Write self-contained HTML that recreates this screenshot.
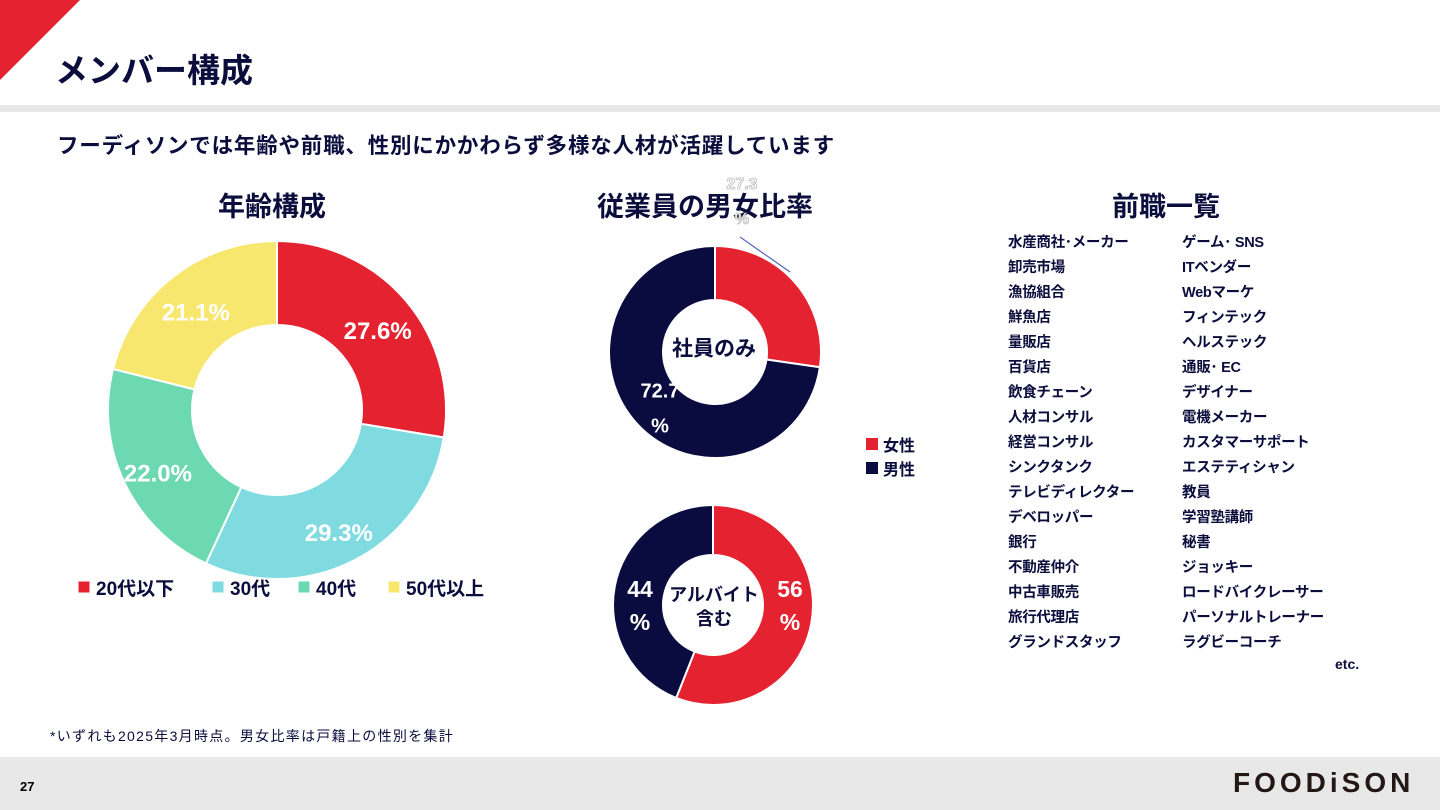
<!DOCTYPE html>
<html><head><meta charset="utf-8"><style>
body{margin:0;width:1440px;height:810px;position:relative;overflow:hidden;background:#fff;font-family:"Liberation Sans","Noto Sans CJK JP",sans-serif;color:#0b0d3d}
.abs{position:absolute}
.b{font-weight:bold}
.list div{height:25px;font-size:14.5px;font-weight:bold;white-space:nowrap;letter-spacing:-0.3px}
</style></head><body>
<div class="abs" style="left:0;top:0;width:0;height:0;border-top:80px solid #e52330;border-right:80px solid transparent"></div>
<div class="abs b" style="left:55px;top:44px;font-size:33px;letter-spacing:0px">メンバー構成</div>
<div class="abs" style="left:0;top:105px;width:1440px;height:7px;background:#e8e8e8"></div>
<div class="abs b" style="left:57px;top:129px;font-size:21.5px;letter-spacing:0.8px">フーディソンでは年齢や前職、性別にかかわらず多様な人材が活躍しています</div>
<div class="abs b" style="left:218px;top:185px;font-size:27px">年齢構成</div>
<div class="abs b" style="left:597px;top:185px;font-size:27px">従業員の男女比率</div>
<div class="abs b" style="left:1112px;top:185px;font-size:27px">前職一覧</div>
<svg id="chart" class="abs" style="left:0;top:0" width="1440" height="810"></svg>
<div class="abs list" style="left:1008px;top:231px">
<div>水産商社･メーカー</div><div>卸売市場</div><div>漁協組合</div><div>鮮魚店</div><div>量販店</div><div>百貨店</div><div>飲食チェーン</div><div>人材コンサル</div><div>経営コンサル</div><div>シンクタンク</div><div>テレビディレクター</div><div>デベロッパー</div><div>銀行</div><div>不動産仲介</div><div>中古車販売</div><div>旅行代理店</div><div>グランドスタッフ</div></div>
<div class="abs list" style="left:1182px;top:231px">
<div>ゲーム･ SNS</div><div>ITベンダー</div><div>Webマーケ</div><div>フィンテック</div><div>ヘルステック</div><div>通販･ EC</div><div>デザイナー</div><div>電機メーカー</div><div>カスタマーサポート</div><div>エステティシャン</div><div>教員</div><div>学習塾講師</div><div>秘書</div><div>ジョッキー</div><div>ロードバイクレーサー</div><div>パーソナルトレーナー</div><div>ラグビーコーチ</div></div>
<div class="abs b" style="left:1335px;top:656px;font-size:14px">etc.</div>
<div class="abs" style="left:50px;top:726px;font-size:14px;letter-spacing:1.3px">*いずれも2025年3月時点。男女比率は戸籍上の性別を集計</div>
<div class="abs" style="left:0;top:757px;width:1440px;height:53px;background:#e8e8e8"></div>
<div class="abs b" style="left:20px;top:779px;font-size:13px;color:#000">27</div>
<div class="abs b" style="left:1233px;top:767px;font-size:28px;color:#231815;letter-spacing:4px">FOODiSON</div>
<script>
const ageCats=["20代以下","30代","40代","50代以上"];
const ageVals=[27.6,29.3,22.0,21.1];
const ageColors=["#e52330","#7fdbe0","#6dd9b3","#f7e76f"];
const genderCats=["女性","男性"];
const staffVals=[27.3,72.7];
const partVals=[56,44];
const genderColors=["#e52330","#0a0c3f"];
const NS="http://www.w3.org/2000/svg";
const svg=document.getElementById('chart');
function mk(t,a){const e=document.createElementNS(NS,t);for(const k in a)e.setAttribute(k,a[k]);svg.appendChild(e);return e;}
function pt(cx,cy,r,f){const a=f*2*Math.PI-Math.PI/2;return [cx+r*Math.cos(a),cy+r*Math.sin(a)];}
function donut(name,cx,cy,R,r,vals,cols,labels,labR){
  const tot=vals.reduce((a,b)=>a+b,0);let acc=0;
  vals.forEach((v,i)=>{
    const f0=acc/tot,f1=(acc+v)/tot;acc+=v;
    const [x0,y0]=pt(cx,cy,R,f0),[x1,y1]=pt(cx,cy,R,f1),[x2,y2]=pt(cx,cy,r,f1),[x3,y3]=pt(cx,cy,r,f0);
    const lg=(f1-f0)>0.5?1:0;
    const p=mk('path',{d:`M${x0},${y0}A${R},${R} 0 ${lg} 1 ${x1},${y1}L${x2},${y2}A${r},${r} 0 ${lg} 0 ${x3},${y3}Z`,fill:cols[i],stroke:'#fff','stroke-width':2});
    
    
    if(labels){const [lx,ly]=pt(cx,cy,labR,(f0+f1)/2);labels(i,v,lx,ly);}
  });
}
function txt(s,x,y,size,fill,name){const t=mk('text',{x:x,y:y,'font-size':size,'font-weight':'bold',fill:fill,'text-anchor':'middle','dominant-baseline':'middle'});t.textContent=s;

return t;}
donut('age',277,410,169,85,ageVals,ageColors,(i,v,x,y)=>txt(v.toFixed(1)+'%',x,y+8,24,'#fff','age-label-'+i),132);
donut('staff',715,352,106,52,staffVals,genderColors,null,0);
txt('72.7',660,392,20,'#fff','staff-male-label');
txt('%',660,427,20,'#fff','staff-male-pct');
const lt=txt('27.3',742,185,16,'#fff','staff-female-label');lt.setAttribute('stroke','#bbb');lt.setAttribute('stroke-width','0.8');
const lp=txt('%',742,220,16,'#fff','staff-female-pct');lp.setAttribute('stroke','#bbb');lp.setAttribute('stroke-width','0.8');
mk('line',{x1:740,y1:237,x2:790,y2:272,stroke:'#5566bb','stroke-width':1.2});
txt('社員のみ',714,350,21,'#0b0d3d','staff-center-label');
donut('part',713,605,100,50,partVals,genderColors,null,0);
txt(partVals[0]+'',790,591,23,'#fff','part-female-label');txt('%',790,624,23,'#fff','part-female-pct');
txt(partVals[1]+'',640,591,23,'#fff','part-male-label');txt('%',640,624,23,'#fff','part-male-pct');
txt('アルバイト',714,596,18,'#0b0d3d','part-center-1');txt('含む',714,620,18,'#0b0d3d','part-center-2');
const ageLegX=[78,212,298,388];
ageCats.forEach((c,i)=>{const r=mk('rect',{x:ageLegX[i],y:581,width:12,height:12,fill:ageColors[i],stroke:'#fff'});

const t=mk('text',{x:ageLegX[i]+18,y:595,'font-size':19,'font-weight':'bold',fill:'#0b0d3d'});t.textContent=c;
});
genderCats.forEach((c,i)=>{const r=mk('rect',{x:866,y:438+i*24,width:12,height:12,fill:genderColors[i]});

const t=mk('text',{x:883,y:451+i*24,'font-size':16,'font-weight':'bold',fill:'#0b0d3d'});t.textContent=c;
});
</script>
</body></html>
